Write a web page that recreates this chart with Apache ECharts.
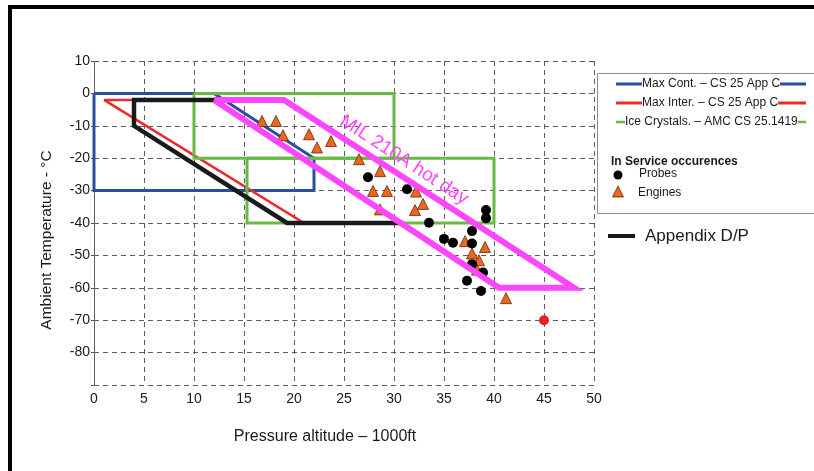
<!DOCTYPE html>
<html>
<head>
<meta charset="utf-8">
<script src="https://cdn.jsdelivr.net/npm/echarts@6/dist/echarts.min.js"></script>
<style>
html,body{margin:0;padding:0;background:#fff;}
#chart{width:814px;height:471px;}
</style>
</head>
<body>
<div id="chart"></div>
<script>
// ---- Data (pressure altitude in 1000 ft, temperature in °C) ----
const xTicks = [0, 5, 10, 15, 20, 25, 30, 35, 40, 45, 50];
const yTicks = [10, 0, -10, -20, -30, -40, -50, -60, -70, -80];

const maxContEnvelope = [[0, 0], [12, 0], [22, -20], [22, -30], [0, -30], [0, 0]];
const maxInterEnvelope = [[1, -2], [12, -2], [30.7, -40], [21, -40], [1, -2]];
const iceCrystalsUpper = [[10, 0], [30, 0], [30, -20], [10, -20], [10, 0]];
const iceCrystalsLower = [[15.3, -20], [40, -20], [40, -40], [15.3, -40], [15.3, -20]];
const appendixDP = [[19, -2], [4, -2], [4, -10], [19.3, -40], [30.7, -40], [40.5, -60], [48, -60], [19, -2]];
const mil210AHotDay = [[12, -2], [19, -2], [48, -60], [40.5, -60], [12, -2]];

const enginesX = [16.8, 18.2, 18.9, 21.5, 22.3, 23.7, 26.5, 28.6, 27.9, 29.3, 28.6, 32.2, 32.9, 32.1, 37.1, 39.1, 37.8, 38.5, 38.3, 41.2];
const enginesY = [-8.5, -8.5, -12.9, -12.6, -16.7, -14.7, -20.3, -24.0, -30.1, -30.1, -35.8, -30.3, -34.1, -36.0, -45.6, -47.4, -49.4, -51.5, -54.4, -63.2];
const probesX = [27.4, 31.3, 33.5, 39.2, 39.2, 37.8, 35.0, 35.9, 37.8, 37.8, 38.9, 37.3, 38.7];
const probesY = [-25.9, -29.6, -39.9, -36.0, -38.5, -42.5, -44.9, -46.1, -46.3, -52.7, -55.3, -57.8, -61.0];
const redPointX = [45];
const redPointY = [-70];

const FONT = "'Liberation Sans', Arial, sans-serif";
const zip = (xs, ys) => xs.map((x, i) => [x, ys[i]]);

const chart = echarts.init(document.getElementById('chart'), null, {renderer: 'canvas'});

function lineSeries(name, data, color, width, z) {
  return {
    name: name, type: 'line', data: data, showSymbol: false, symbol: 'none',
    lineStyle: {color: color, width: width, join: 'miter', opacity: 1},
    z: z, silent: true, animation: false
  };
}

const gridLine = {lineStyle: {color: '#5e5e5e', width: 1, type: [5, 4]}};

const option = {
  backgroundColor: '#ffffff',
  animation: false,
  grid: {left: 94, top: 61, width: 500, height: 324, containLabel: false},
  xAxis: {
    type: 'value', min: 0, max: 50, interval: 5,
    axisLine: {show: true, lineStyle: {color: '#5e5e5e', width: 1, type: [5, 4]}},
    axisTick: {show: false},
    splitLine: Object.assign({show: true}, gridLine),
    axisLabel: {
      color: '#1a1a1a', fontSize: 14, fontFamily: FONT, margin: 7,
      formatter: v => (xTicks.indexOf(v) >= 0 ? String(v) : '')
    }
  },
  yAxis: {
    type: 'value', min: -90, max: 10, interval: 10,
    axisLine: {show: true, onZero: false, lineStyle: {color: '#5e5e5e', width: 1, type: [5, 4]}},
    axisTick: {show: true, length: 3, lineStyle: {color: '#555'}},
    splitLine: Object.assign({show: true}, gridLine),
    axisLabel: {
      color: '#1a1a1a', fontSize: 14, fontFamily: FONT, margin: 4,
      formatter: v => (yTicks.indexOf(v) >= 0 ? String(v) : '')
    }
  },
  series: [
    lineSeries('Max Cont. – CS 25 App C', maxContEnvelope, '#2c4ca0', 3, 2),
    lineSeries('Max Inter. – CS 25 App C', maxInterEnvelope, '#ec2a2a', 2.5, 3),
    lineSeries('Ice Crystals. – AMC CS 25.1419', iceCrystalsUpper, '#67bb45', 3, 4),
    lineSeries('Ice Crystals. – AMC CS 25.1419', iceCrystalsLower, '#67bb45', 3, 4),
    {
      name: 'Engines', type: 'scatter', data: zip(enginesX, enginesY),
      symbol: 'triangle', symbolSize: [11, 11],
      itemStyle: {color: '#f0651a', borderColor: '#5e2c0c', borderWidth: 0.8, opacity: 1},
      z: 5
    },
    {
      name: 'Probes', type: 'scatter', data: zip(probesX, probesY),
      symbol: 'circle', symbolSize: 10,
      itemStyle: {color: '#000000', opacity: 1}, z: 5
    },
    {
      name: 'Red point', type: 'scatter', data: zip(redPointX, redPointY),
      symbol: 'circle', symbolSize: 10,
      itemStyle: {color: '#e8202a', opacity: 1}, z: 5
    },
    lineSeries('Appendix D/P', appendixDP, '#1a1a1a', 4.5, 6),
    lineSeries('MIL 210A hot day', mil210AHotDay, '#ff46ff', 6, 7)
  ],
  graphic: [
    // outer frame
    {type: 'rect', shape: {x: 8, y: 5, width: 806, height: 4}, style: {fill: '#000'}, z: 100},
    {type: 'rect', shape: {x: 8, y: 5, width: 4, height: 466}, style: {fill: '#000'}, z: 100},
    // axis titles
    {type: 'text', x: 325, y: 437, z: 100,
      style: {text: 'Pressure altitude – 1000ft', font: '16px ' + FONT, fill: '#1a1a1a', align: 'center', verticalAlign: 'middle'}},
    {type: 'text', x: 47, y: 240, rotation: Math.PI / 2, z: 100,
      style: {text: 'Ambient Temperature - °C', font: '15.5px ' + FONT, fill: '#1a1a1a', align: 'center', verticalAlign: 'middle'}},
    // annotation
    {type: 'text', x: 404, y: 160, rotation: -0.575, z: 100,
      style: {text: 'MIL 210A hot day', font: '19px ' + FONT, fill: '#ff46ff', align: 'center', verticalAlign: 'middle'}},
    // legend box
    {type: 'rect', shape: {x: 597.5, y: 73.5, width: 240, height: 140}, style: {fill: '#fff', stroke: '#8c8c8c', lineWidth: 1}, z: 90},
    {type: 'line', shape: {x1: 616, y1: 84, x2: 806, y2: 84}, style: {stroke: '#2c4ca0', lineWidth: 3}, z: 91},
    {type: 'text', x: 642, y: 84, z: 92,
      style: {text: 'Max Cont. – CS 25 App C', font: '12px ' + FONT, fill: '#1a1a1a', align: 'left', verticalAlign: 'middle', backgroundColor: '#fff'}},
    {type: 'line', shape: {x1: 616, y1: 103, x2: 806, y2: 103}, style: {stroke: '#ec2a2a', lineWidth: 3}, z: 91},
    {type: 'text', x: 642, y: 103, z: 92,
      style: {text: 'Max Inter. – CS 25 App C', font: '12px ' + FONT, fill: '#1a1a1a', align: 'left', verticalAlign: 'middle', backgroundColor: '#fff'}},
    {type: 'line', shape: {x1: 616, y1: 122, x2: 806, y2: 122}, style: {stroke: '#67bb45', lineWidth: 2.5}, z: 91},
    {type: 'text', x: 625, y: 122, z: 92,
      style: {text: 'Ice Crystals. – AMC CS 25.1419', font: '12px ' + FONT, fill: '#1a1a1a', align: 'left', verticalAlign: 'middle', backgroundColor: '#fff'}},
    {type: 'text', x: 611, y: 162, z: 92,
      style: {text: 'In Service occurences', font: 'bold 12px ' + FONT, fill: '#1a1a1a', align: 'left', verticalAlign: 'middle'}},
    {type: 'circle', shape: {cx: 618, cy: 175, r: 4.5}, style: {fill: '#000'}, z: 92},
    {type: 'text', x: 639, y: 174, z: 92,
      style: {text: 'Probes', font: '12px ' + FONT, fill: '#1a1a1a', align: 'left', verticalAlign: 'middle'}},
    {type: 'polygon', shape: {points: [[612.5, 197], [623.5, 197], [618, 186]]}, style: {fill: '#f0651a', stroke: '#5e2c0c', lineWidth: 0.8}, z: 92},
    {type: 'text', x: 638, y: 193, z: 92,
      style: {text: 'Engines', font: '12px ' + FONT, fill: '#1a1a1a', align: 'left', verticalAlign: 'middle'}},
    {type: 'line', shape: {x1: 608, y1: 236, x2: 635, y2: 236}, style: {stroke: '#1a1a1a', lineWidth: 4}, z: 92},
    {type: 'text', x: 645, y: 236, z: 92,
      style: {text: 'Appendix D/P', font: '17px ' + FONT, fill: '#1a1a1a', align: 'left', verticalAlign: 'middle'}}
  ]
};

chart.setOption(option);
</script>
</body>
</html>
